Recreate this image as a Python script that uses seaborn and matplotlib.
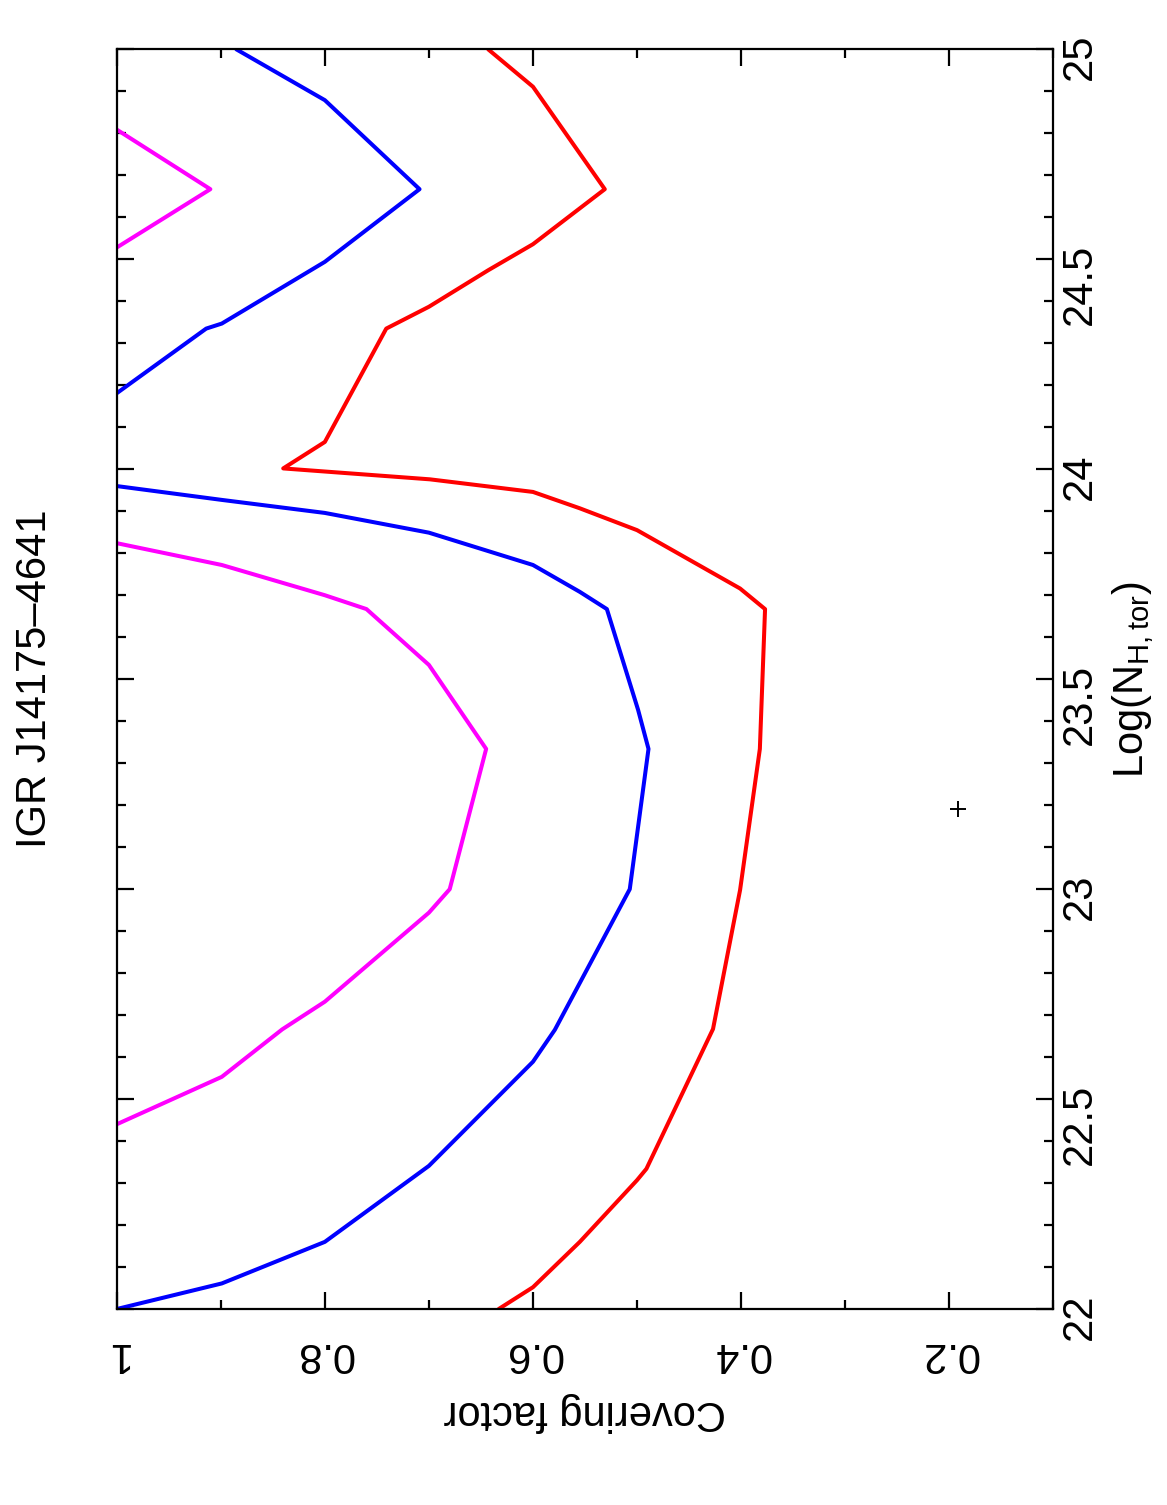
import matplotlib
matplotlib.use("Agg")
import matplotlib.pyplot as plt
import numpy as np
import pandas as pd
import seaborn as sns
from matplotlib.ticker import FixedLocator, MultipleLocator

# ---------------- data ----------------
title_text = "IGR J14175\u20134641"
x_label = "Covering factor"
y_label = r"Log(N$_{H,tor}$)"

cov_ticks = [1.0, 0.8, 0.6, 0.4, 0.2]
cov_tick_labels = ["1", "0.8", "0.6", "0.4", "0.2"]
nh_ticks = [22, 22.5, 23, 23.5, 24, 24.5, 25]
nh_tick_labels = ["22", "22.5", "23", "23.5", "24", "24.5", "25"]

# magenta contour (two pieces)
mag1_nh = [24.809, 24.667, 24.528]
mag1_cov = [1.0, 0.910, 1.0]
mag2_nh = [23.824, 23.772, 23.700, 23.667, 23.534, 23.334, 23.000, 22.944,
           22.732, 22.666, 22.553, 22.440]
mag2_cov = [1.0, 0.899, 0.800, 0.760, 0.700, 0.645, 0.680, 0.700,
            0.800, 0.841, 0.899, 1.0]

# blue contour (two pieces)
blue1_nh = [25.0, 24.879, 24.667, 24.494, 24.347, 24.335, 24.181]
blue1_cov = [0.885, 0.800, 0.709, 0.800, 0.899, 0.914, 1.0]
blue2_nh = [23.960, 23.927, 23.896, 23.849, 23.772, 23.708, 23.667, 23.427,
            23.334, 23.000, 22.665, 22.589, 22.341, 22.160, 22.061, 22.000]
blue2_cov = [1.0, 0.899, 0.800, 0.700, 0.600, 0.555, 0.529, 0.499,
             0.489, 0.507, 0.579, 0.600, 0.700, 0.800, 0.899, 1.0]

# red contour (one piece)
red_nh = [25.0, 24.911, 24.667, 24.536, 24.474, 24.387, 24.335, 24.065,
          24.002, 23.976, 23.946, 23.907, 23.855, 23.716, 23.667, 23.334,
          22.998, 22.667, 22.334, 22.307, 22.160, 22.052, 22.000]
red_cov = [0.643, 0.600, 0.531, 0.600, 0.643, 0.700, 0.741, 0.800,
           0.840, 0.699, 0.600, 0.555, 0.500, 0.401, 0.377, 0.382,
           0.401, 0.427, 0.491, 0.500, 0.555, 0.600, 0.633]

best_cov = [0.192]
best_nh = [23.190]

levels = ["68%", "90%", "99%"]
level_colors = {"68%": "#FF00FF", "90%": "#0000FF", "99%": "#FF0000"}

# build a long table for seaborn
pieces = [
    ("68%", "m1", mag1_nh, mag1_cov),
    ("68%", "m2", mag2_nh, mag2_cov),
    ("90%", "b1", blue1_nh, blue1_cov),
    ("90%", "b2", blue2_nh, blue2_cov),
    ("99%", "r1", red_nh, red_cov),
]
rows = []
for lev, seg, nh, cv in pieces:
    for i, (a, b) in enumerate(zip(nh, cv)):
        rows.append({"level": lev, "segment": seg, "order": i, "nh": a, "cov": b})
df = pd.DataFrame(rows)

# ---------------- style ----------------
sns.set_theme(style="white")
plt.rcParams["font.family"] = ["Liberation Sans", "DejaVu Sans"]
plt.rcParams["mathtext.default"] = "regular"
for k in ["text.color", "axes.labelcolor", "xtick.color", "ytick.color",
          "axes.edgecolor"]:
    plt.rcParams[k] = "black"
FS = 30

fig = plt.figure(figsize=(11.67, 15.05), dpi=100)
ax = fig.add_axes([0.1000, 0.1302, 0.8026, 0.8370])

sns.lineplot(data=df, x="cov", y="nh", hue="level", units="segment",
             estimator=None, sort=False, palette=level_colors,
             hue_order=levels, linewidth=2.9, legend=False, ax=ax)
ax.plot(best_cov, best_nh, linestyle="none", marker="+", markersize=11.5,
        markeredgewidth=1.4, color="black")

ax.set_xlim(1.0, 0.1)
ax.set_ylim(22, 25)

ax.xaxis.set_major_locator(FixedLocator(cov_ticks))
ax.set_xticklabels(cov_tick_labels)
ax.xaxis.set_minor_locator(MultipleLocator(0.1))
ax.yaxis.set_major_locator(FixedLocator(nh_ticks))
ax.set_yticklabels(nh_tick_labels)
ax.yaxis.set_minor_locator(MultipleLocator(0.1))

for s in ax.spines.values():
    s.set_linewidth(1.6)
    s.set_color("black")

ax.tick_params(axis="both", which="both", direction="in", top=True,
               bottom=True, left=True, right=True, color="black", width=1.6)
ax.tick_params(axis="both", which="major", length=12.5)
ax.tick_params(axis="both", which="minor", length=6.5)
ax.tick_params(axis="x", which="major", labelsize=FS, labelrotation=180,
               pad=18, labelbottom=True, labeltop=False, labelcolor="black")
ax.tick_params(axis="y", which="major", labelsize=FS, labelrotation=90,
               pad=5, labelleft=False, labelright=True, labelcolor="black")

ax.set_xlabel(x_label, fontsize=FS, rotation=180, color="black")
ax.xaxis.set_label_coords(0.5, -0.066)

ax.yaxis.set_label_position("right")
ax.set_ylabel(y_label, fontsize=FS, rotation=90, color="black")
ax.yaxis.set_label_coords(1.0605, 0.5)

ax.text(-0.0872, 0.5, title_text, transform=ax.transAxes, rotation=90,
        rotation_mode="anchor", ha="center", va="center", fontsize=FS,
        color="black")

ax.grid(False)
fig.savefig("out.png", dpi=100, facecolor="white")
